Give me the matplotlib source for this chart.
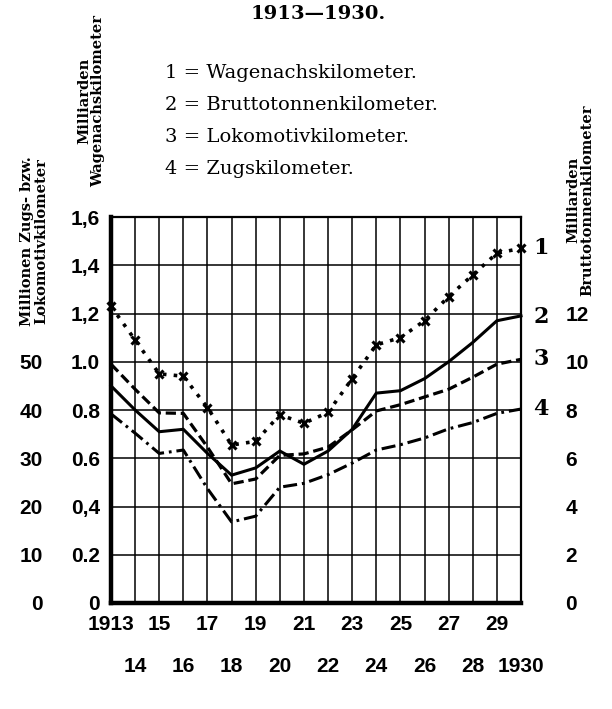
import matplotlib
matplotlib.use("Agg")
import matplotlib.pyplot as plt
import numpy as np

# ---------------- data ----------------
years = list(range(1913, 1931))
# 1 = Wagenachskilometer (Milliarden)
wagenachs = [1.23, 1.09, 0.95, 0.94, 0.81, 0.655, 0.67, 0.78, 0.745, 0.79,
             0.93, 1.07, 1.10, 1.17, 1.27, 1.36, 1.45, 1.47]
# 2 = Bruttotonnenkilometer (Milliarden)
brutto = [9.0, 8.0, 7.1, 7.2, 6.2, 5.3, 5.6, 6.3, 5.75, 6.3,
          7.2, 8.7, 8.8, 9.3, 10.0, 10.8, 11.7, 11.9]
# 3 = Lokomotivkilometer (Millionen)
lokomotiv = [49.5, 44.3, 39.4, 39.3, 32.3, 24.7, 25.7, 30.6, 30.9, 32.3,
             35.9, 39.8, 41.1, 42.7, 44.3, 46.8, 49.5, 50.5]
# 4 = Zugskilometer (Millionen)
zugs = [39.2, 35.2, 31.0, 31.7, 23.7, 16.8, 18.0, 24.0, 24.8, 26.6,
        29.0, 31.7, 32.8, 34.2, 36.1, 37.4, 39.3, 40.2]

wagen_ticks = [0, 0.2, 0.4, 0.6, 0.8, 1.0, 1.2, 1.4, 1.6]
wagen_labels = ["0", "0.2", "0,4", "0.6", "0.8", "1.0", "1,2", "1,4", "1,6"]
mill_ticks = [0, 10, 20, 30, 40, 50]
mill_labels = ["0", "10", "20", "30", "40", "50"]
brutto_ticks = [0, 2, 4, 6, 8, 10, 12]
brutto_labels = ["0", "2", "4", "6", "8", "10", "12"]
x_top_years = [1913, 1915, 1917, 1919, 1921, 1923, 1925, 1927, 1929]
x_top_labels = ["1913", "15", "17", "19", "21", "23", "25", "27", "29"]
x_bot_years = [1914, 1916, 1918, 1920, 1922, 1924, 1926, 1928, 1930]
x_bot_labels = ["14", "16", "18", "20", "22", "24", "26", "28", "1930"]

title = "1913\u20141930."
legend_lines = ["1 = Wagenachskilometer.",
                "2 = Bruttotonnenkilometer.",
                "3 = Lokomotivkilometer.",
                "4 = Zugskilometer."]

# ---------------- style ----------------
NUM_FONT = ["Liberation Sans", "DejaVu Sans"]
NUM_SIZE = 15
SERIF = ["DejaVu Serif"]
W, H = 612, 709

fig = plt.figure(figsize=(W / 100, H / 100), dpi=100)
fig.patch.set_facecolor("white")

ax = fig.add_axes([111 / W, 1 - 603 / H, 410 / W, 386 / H])
ax.set_xlim(1913, 1930)
ax.set_ylim(0, 1.6)
ax.set_xticks(x_top_years)
ax.set_xticks(x_bot_years, minor=True)
ax.set_yticks(wagen_ticks)
ax.grid(True, which="both", color="black", lw=1.1)
ax.set_axisbelow(True)
for s in ["left", "bottom"]:
    ax.spines[s].set_linewidth(3.2)
for s in ["top", "right"]:
    ax.spines[s].set_linewidth(1.6)

num_kw = dict(family=NUM_FONT, fontsize=NUM_SIZE, fontweight="bold")
ax.set_yticklabels(wagen_labels, **num_kw)
ax.set_xticklabels(x_top_labels, **num_kw)
ax.set_xticklabels(x_bot_labels, minor=True, **num_kw)
ax.tick_params(axis="both", which="both", length=0)
ax.tick_params(axis="y", pad=8)
ax.tick_params(axis="x", which="major", pad=9)
ax.tick_params(axis="x", which="minor", pad=39)

# Millionen axis (far left)
axm = ax.twinx()
axm.set_ylim(0, 80)
axm.yaxis.set_ticks_position("left")
axm.spines["left"].set_position(("outward", 46))
for s in axm.spines.values():
    s.set_visible(False)
axm.set_yticks(mill_ticks)
axm.set_yticklabels(mill_labels, **num_kw)
axm.tick_params(axis="y", length=0, pad=3)

# Bruttotonnen axis (right)
axb = ax.twinx()
axb.set_ylim(0, 16)
for s in axb.spines.values():
    s.set_visible(False)
axb.set_yticks(brutto_ticks)
axb.set_yticklabels(brutto_labels, **num_kw)
axb.tick_params(axis="y", length=0, pad=32)
for lbl in axb.get_yticklabels():
    lbl.set_ha("left")

# ---------------- series ----------------
ax.plot(years, wagenachs, color="black", lw=2.6, linestyle=(0, (1.0, 2.0)),
        marker="x", ms=5.5, mew=2.2, clip_on=False, zorder=5)
axb.plot(years, brutto, color="black", lw=2.2, solid_joinstyle="miter",
         clip_on=False, zorder=5)
axm.plot(years, lokomotiv, color="black", lw=2.3, linestyle=(0, (3.2, 1.5)),
         clip_on=False, zorder=5)
axm.plot(years, zugs, color="black", lw=2.2, linestyle=(0, (4.6, 1.6, 0.9, 1.6)),
         clip_on=False, zorder=5)

lab_kw = dict(textcoords="offset points", ha="left", va="center",
              family=SERIF, fontsize=16, fontweight="bold")
ax.annotate("1", xy=(years[-1], wagenachs[-1]), xytext=(9, 0), **lab_kw)
axb.annotate("2", xy=(years[-1], brutto[-1]), xytext=(9, -1), **lab_kw)
axm.annotate("3", xy=(years[-1], lokomotiv[-1]), xytext=(9, 0), **lab_kw)
axm.annotate("4", xy=(years[-1], zugs[-1]), xytext=(9, 0), **lab_kw)

# ---------------- texts ----------------
fig.text(318 / W, 1 - 14 / H, title, ha="center", va="center",
         family=SERIF, fontsize=14, fontweight="bold")
for i, line in enumerate(legend_lines):
    fig.text(165 / W, 1 - (73 + 32 * i) / H, line, ha="left", va="center",
             family=SERIF, fontsize=14)

ax_title_kw = dict(rotation=90, ha="center", va="bottom", family=SERIF,
                   fontsize=10.5, fontweight="bold", linespacing=1.0)
fig.text(91 / W, 1 - 187 / H, "Milliarden\nWagenachskilometer", **ax_title_kw)
fig.text(34 / W, 1 - 326 / H, "Millionen Zugs- bzw.\nLokomotivkilometer", **ax_title_kw)
fig.text(580 / W, 1 - 296 / H, "Milliarden\nBruttotonnenkilometer", **ax_title_kw)

fig.savefig("out.png", dpi=100, facecolor="white")
